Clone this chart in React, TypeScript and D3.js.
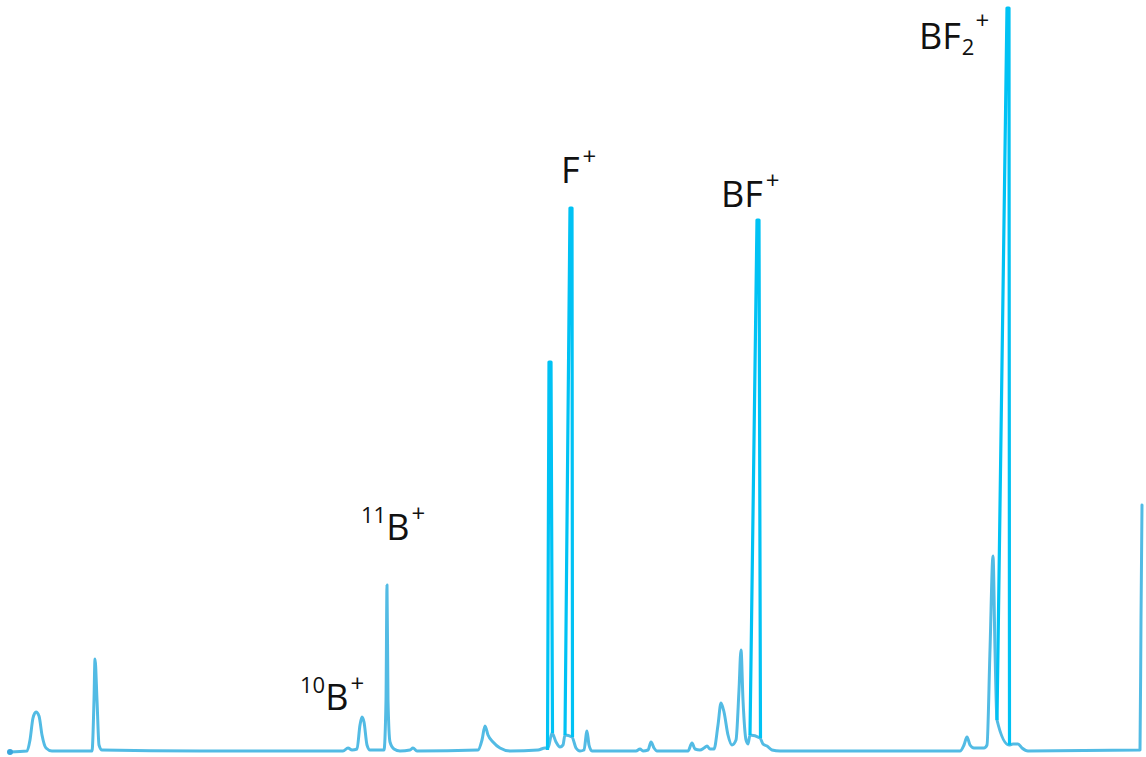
import React from 'react'
import * as d3 from 'd3'

// scan position vs detector signal (signal measured up from the baseline)
const traceScan = [
  10, 27, 30, 33, 36, 39, 42, 46, 52, 92, 94, 95, 97, 99, 102, 200, 343, 348, 352, 357, 360, 362, 364, 367, 370,
  384, 386, 387, 388, 390, 394, 400, 410, 413, 417, 478, 482, 485, 488, 493, 500, 510, 538, 545, 548, 552, 556,
  560, 563, 565, 572, 576, 580, 584, 587, 589, 592, 636, 640, 643, 648, 651, 654, 657, 688, 692, 695, 700, 704,
  707, 710, 714, 718, 721, 724, 728, 732, 736, 739, 741, 743, 746, 748, 750, 760, 763, 767, 772, 780, 960, 964,
  967, 970, 974, 984, 987, 990, 993, 995, 997, 1009, 1013, 1018, 1022, 1028, 1140, 1141, 1142,
]
const traceSignal = [
  0, 1, 12, 34, 40, 36, 17, 4, 1, 1, 52, 93, 52, 7, 2, 1, 1, 4, 2, 3, 27, 35, 30, 7, 2,
  2, 52, 167, 52, 10, 3, 1, 2, 4, 1, 2, 12, 26, 17, 10, 4, 1, 2, 4, 4, 19, 10,
  5, 7, 17, 15, 4, 1, 2, 21, 7, 1, 1, 3, 1, 2, 10, 4, 1, 1, 9, 3, 2, 4,
  6, 3, 3, 27, 49, 40, 17, 7, 12, 62, 102, 52, 12, 8, 17, 14, 8, 6, 2, 1, 1, 7,
  15, 7, 4, 4, 7, 102, 196, 102, 32, 7, 8, 8, 4, 1, 2, 132, 247,
]

// the tall, fast pen strokes
const spikeNames = ['pre', 'F+', 'BF+', 'BF2+']
const spikeScan = [
  [547.5, 549, 551, 552.5],
  [565, 570, 572, 572.5],
  [750, 757, 759, 760.5],
  [997, 1007, 1009, 1009.5],
]
const spikeSignal = [
  [2, 390, 390, 19],
  [17, 544, 544, 15],
  [17, 532, 532, 14],
  [32, 744, 744, 7],
]

const W = 1146
const H = 757

export default function App() {
  const x = d3.scaleLinear().domain([0, W]).range([0, W])
  const y = d3.scaleLinear().domain([0, 752]).range([752, 0])

  const trace = d3
    .line<number>()
    .x((d) => x(traceScan[d]))
    .y((d) => y(traceSignal[d]))
    .curve(d3.curveMonotoneX)

  const spike = (i: number) =>
    d3
      .line<number>()
      .x((d) => x(spikeScan[i][d]))
      .y((d) => y(spikeSignal[i][d]))(d3.range(spikeScan[i].length)) ?? ''

  const font = '"Open Sans", "Noto Sans", sans-serif'

  return (
    <div style={{ position: 'fixed', left: 0, top: 0 }}>
      <svg width={W} height={H} style={{ display: 'block', background: '#fff' }}>
        <path
          d={trace(d3.range(traceScan.length)) ?? ''}
          fill="none"
          stroke="#52bbe4"
          strokeWidth={3}
          strokeLinejoin="round"
          strokeLinecap="round"
        />
        <circle cx={x(traceScan[0])} cy={y(traceSignal[0])} r={3} fill="#3aa6dc" />
        {spikeNames.map((n, i) => (
          <path
            key={n}
            d={spike(i)}
            fill="none"
            stroke="#00c2f4"
            strokeWidth={3.2}
            strokeLinejoin="round"
          />
        ))}

        <g fontFamily={font} fill="#111">
          <text x={300} y={710} fontSize={36}>
            <tspan fontSize={22} dy={-17}>10</tspan>
            <tspan dy={17}>B</tspan>
            <tspan fontSize={24} dy={-18} dx={2}>+</tspan>
          </text>
          <text x={361} y={540} fontSize={36}>
            <tspan fontSize={22} dy={-17}>11</tspan>
            <tspan dy={17}>B</tspan>
            <tspan fontSize={24} dy={-18} dx={2}>+</tspan>
          </text>
          <text x={561} y={183} fontSize={36}>
            <tspan>F</tspan>
            <tspan fontSize={24} dy={-18} dx={3}>+</tspan>
          </text>
          <text x={721} y={207} fontSize={36}>
            <tspan>BF</tspan>
            <tspan fontSize={24} dy={-18} dx={3}>+</tspan>
          </text>
          <text x={919} y={49} fontSize={36}>
            <tspan>BF</tspan>
            <tspan fontSize={22} dy={6} dx={1}>2</tspan>
            <tspan fontSize={24} dy={-26} dx={1}>+</tspan>
          </text>
        </g>
      </svg>
    </div>
  )
}
